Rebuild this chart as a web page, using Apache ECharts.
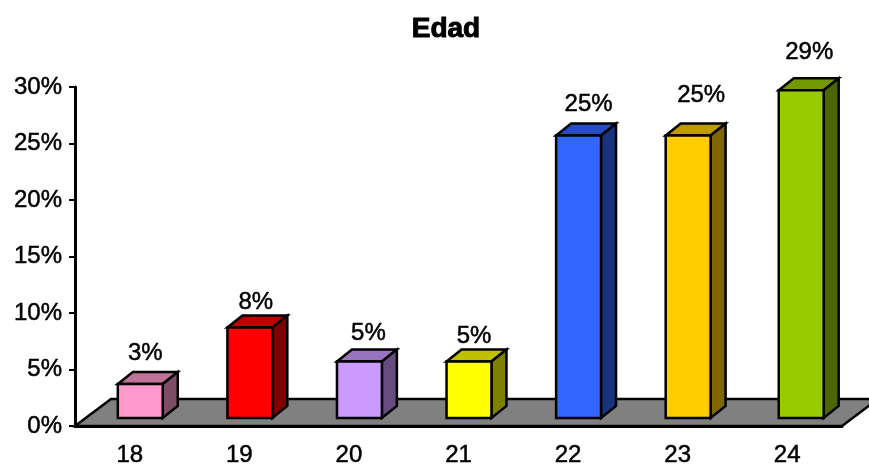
<!DOCTYPE html>
<html>
<head>
<meta charset="utf-8">
<style>html,body{margin:0;padding:0;background:#fff}#chart{width:869px;height:464px}</style>
<script src="https://cdn.jsdelivr.net/npm/echarts@6/dist/echarts.min.js"></script>
</head>
<body>
<div id="chart"></div>
<script>
// Age distribution, in percent of respondents
const categories = ['18', '19', '20', '21', '22', '23', '24'];
const values = [3, 8, 5, 5, 25, 25, 29];
const frontColors = ['#FF99CC', '#FF0000', '#CC99FF', '#FFFF00', '#3366FF', '#FFCC00', '#99CC00'];
const topColors = ['#BF7399', '#BF0000', '#9973BF', '#BFBF00', '#264CBF', '#BF9900', '#739900'];
const sideColors = ['#7F4C66', '#7F0000', '#664C7F', '#7F7F00', '#19337F', '#7F6600', '#4C6600'];
// Hand placement of each value label relative to its bar's top centre
const labelNudgeX = [5, 6, 9, 5, 10, 13, 8];
const labelNudgeY = [-31, -25, -28, -25, -31, -40, -38];
// Sideways adjustment of a column within its category band
const barNudgeX = [0, 0, 0, 0, 0, 0, 3.5];

const FONT = '"Liberation Sans", Arial, sans-serif';
const DEPTH_X = 15, DEPTH_Y = 12;     // bar extrusion
const FLOOR_X = 36, FLOOR_Y = 27;     // floor extrusion
const LIFT = 8, SHIFT = 10.5;         // bars stand on the floor, behind the axis plane
const OUTLINE = { stroke: '#000', lineWidth: 2.5, lineJoin: 'miter' };
const TEXT_WEIGHT = { textBorderColor: '#000', textBorderWidth: 0.5 };

function poly(points, fill) {
  return { type: 'polygon', shape: { points }, style: Object.assign({ fill }, OUTLINE) };
}

function renderFloor(params, api) {
  const a = api.coord([0, 0]);
  const size = api.size([1, 0])[0];
  const left = a[0] - size / 2;
  const right = left + size * categories.length;
  const y = a[1];
  return poly([[left, y], [left + FLOOR_X, y - FLOOR_Y], [right + FLOOR_X, y - FLOOR_Y], [right, y]], '#808080');
}

function renderBar(params, api) {
  const i = api.value(0);
  const v = api.value(1);
  const base = api.coord([i, 0]);
  const top = api.coord([i, v]);
  const w = api.size([1, 0])[0] * 0.41;
  const x0 = base[0] + SHIFT + barNudgeX[i] - w / 2;
  const x1 = x0 + w;
  const y0 = top[1] - LIFT;
  const y1 = base[1] - LIFT;
  return {
    type: 'group',
    children: [
      poly([[x0, y0], [x0 + DEPTH_X, y0 - DEPTH_Y], [x1 + DEPTH_X, y0 - DEPTH_Y], [x1, y0]], topColors[i]),
      poly([[x1, y0], [x1 + DEPTH_X, y0 - DEPTH_Y], [x1 + DEPTH_X, y1 - DEPTH_Y], [x1, y1]], sideColors[i]),
      poly([[x0, y0], [x1, y0], [x1, y1], [x0, y1]], frontColors[i]),
      {
        type: 'text',
        style: {
          text: v + '%',
          x: (x0 + x1) / 2 + labelNudgeX[i],
          y: y0 + labelNudgeY[i],
          align: 'center',
          verticalAlign: 'middle',
          font: '24px ' + FONT,
          fill: '#000',
          stroke: '#000',
          lineWidth: 0.5
        }
      }
    ]
  };
}

const chart = echarts.init(document.getElementById('chart'), null, { renderer: 'canvas' });
chart.setOption({
  animation: false,
  backgroundColor: '#fff',
  title: {
    text: 'Edad',
    left: 441,
    top: 10,
    textAlign: 'center',
    textStyle: {
      fontFamily: FONT, fontSize: 28, fontWeight: 'bold', color: '#000',
      textBorderColor: '#000', textBorderWidth: 1
    }
  },
  grid: { left: 75, right: 27, top: 87, bottom: 38, containLabel: false, outerBoundsMode: 'none' },
  xAxis: {
    type: 'category',
    data: categories,
    z: 5,
    axisLine: { lineStyle: { color: '#000', width: 3 } },
    axisTick: { alignWithLabel: false, length: 7, lineStyle: { color: '#000', width: 2 } },
    axisLabel: Object.assign({ color: '#000', fontFamily: FONT, fontSize: 24, margin: 17 }, TEXT_WEIGHT)
  },
  yAxis: {
    type: 'value',
    min: 0,
    max: 30,
    interval: 5,
    z: 5,
    axisLine: { show: true, lineStyle: { color: '#000', width: 3 } },
    axisTick: { show: true, length: 6, lineStyle: { color: '#000', width: 2 } },
    splitLine: { show: false },
    axisLabel: Object.assign({ color: '#000', fontFamily: FONT, fontSize: 24, margin: 13, formatter: '{value}%' }, TEXT_WEIGHT)
  },
  series: [
    { type: 'custom', z: 1, silent: true, clip: false, renderItem: renderFloor, data: [[0, 0]], encode: { x: 0, y: 1 } },
    { type: 'custom', z: 6, silent: true, clip: false, renderItem: renderBar,
      data: values.map((v, i) => [i, v]), encode: { x: 0, y: 1 } }
  ]
});
</script>
</body>
</html>
